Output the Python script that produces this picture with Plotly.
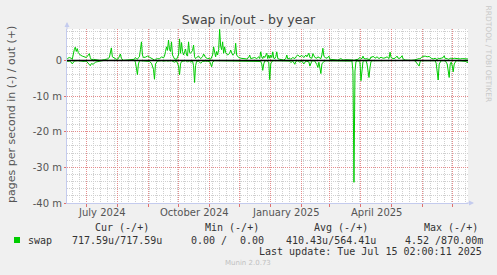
import pandas as pd
import plotly.graph_objects as go

# ---------------- data (values in milli pages/s) ----------------
start_date = "2024-06-12"
day_offset = [
    0, 2, 4, 5, 7, 8, 9, 10, 11, 13,
    15, 17, 19, 21, 22, 23, 24, 26, 28, 30,
    33, 37, 40, 42, 43, 44, 45, 47, 49, 51,
    53, 54, 56, 67, 68, 69, 70, 71, 72, 73,
    74, 75, 76, 78, 80, 82, 84, 86, 87, 88,
    90, 92, 94, 96, 97, 98, 99, 100, 101, 102,
    103, 104, 105, 107, 109, 111, 112, 113, 114, 115,
    116, 118, 119, 120, 121, 122, 123, 125, 126, 127,
    128, 129, 131, 133, 135, 136, 138, 140, 142, 143,
    144, 145, 146, 147, 148, 149, 150, 151, 152, 153,
    154, 155, 156, 157, 158, 160, 162, 163, 165, 167,
    168, 169, 171, 173, 175, 177, 179, 181, 182, 183,
    185, 187, 189, 191, 192, 193, 194, 195, 196, 197,
    199, 200, 201, 202, 203, 204, 205, 206, 207, 208,
    209, 210, 212, 214, 216, 218, 219, 220, 222, 223,
    225, 227, 228, 230, 232, 234, 236, 238, 239, 241,
    242, 244, 245, 247, 249, 250, 251, 253, 254, 255,
    256, 258, 260, 261, 262, 264, 267, 270, 273, 275,
    278, 281, 283, 284, 285, 286, 287, 288, 290, 292,
    293, 294, 295, 296, 298, 299, 300, 301, 302, 303,
    304, 305, 307, 309, 311, 313, 315, 317, 319, 321,
    322, 323, 325, 327, 329, 330, 332, 334, 335, 337,
    340, 343, 346, 348, 349, 351, 352, 353, 355, 357,
    359, 361, 363, 365, 367, 368, 369, 370, 371, 373,
    375, 376, 377, 379, 380, 381, 382, 383, 384, 385,
    386, 388, 390, 392, 394, 396, 398, 399, 400,
]
swap_out = [
    0.5, 0.8, 0.6, 0.3, 3.0, 3.7, 2.5, 3.3, 2.2, 1.5,
    1.2, 1.0, 0.8, 1.5, 1.9, 0.8, 0.2, 0.3, 0.2, 0.1,
    0.0, 0.2, 0.4, 0.8, 2.0, 3.5, 1.0, 0.6, 0.3, 0.5,
    1.8, 0.6, 0.0, 0.3, 0.8, 0.5, 0.3, 0.8, 1.0, 3.0,
    5.2, 1.5, 0.8, 0.9, 1.2, 0.9, 0.5, 0.2, 0.1, 0.3,
    0.5, 0.4, 1.0, 0.7, 1.2, 2.5, 3.8, 2.8, 5.7, 3.0,
    2.5, 5.2, 1.5, 0.4, 0.3, 1.5, 6.0, 2.0, 5.0, 2.5,
    1.5, 3.2, 1.5, 1.2, 5.2, 2.2, 2.0, 2.8, 4.3, 1.0,
    0.5, 0.8, 1.2, 0.5, 1.0, 1.8, 0.8, 0.5, 0.6, 0.3,
    0.8, 1.5, 3.8, 2.0, 1.0, 2.5, 1.5, 3.0, 8.7, 4.0,
    3.0, 5.2, 2.0, 3.8, 2.2, 1.5, 2.0, 2.9, 1.5, 2.0,
    4.8, 1.5, 0.8, 0.6, 0.5, 0.6, 0.4, 0.8, 1.5, 0.5,
    0.6, 0.8, 0.5, 1.0, 0.5, 2.4, 1.0, 0.5, 1.2, 0.8,
    2.0, 0.5, 1.5, 0.6, 1.5, 0.8, 2.4, 0.6, 0.5, 1.0,
    2.4, 0.5, 0.3, 0.1, 0.1, 0.5, 1.5, 0.4, 0.6, 0.3,
    0.8, 0.5, 1.0, 1.5, 1.0, 1.4, 0.8, 1.5, 1.0, 2.0,
    0.8, 0.6, 1.9, 0.8, 0.6, 1.0, 0.8, 0.5, 1.5, 3.4,
    1.2, 0.6, 0.8, 1.2, 0.3, 0.2, 0.1, 0.1, 0.5, 0.1,
    0.2, 0.2, 0.3, 0.1, 0.1, 0.0, 0.0, 0.2, 0.3, 0.8,
    0.5, 0.5, 1.2, 0.5, 0.4, 0.5, 0.3, 0.4, 0.3, 1.0,
    0.8, 1.2, 0.6, 1.0, 0.5, 0.9, 0.6, 0.7, 1.0, 0.5,
    2.3, 0.8, 0.5, 0.6, 1.2, 0.6, 0.6, 1.3, 0.4, 0.1,
    0.0, 0.0, 0.1, 0.3, 0.2, 0.5, 0.4, 0.8, 1.1, 1.2,
    1.0, 1.1, 0.6, 0.4, 0.6, 0.5, 0.2, 0.6, 0.5, 0.6,
    0.8, 1.3, 0.5, 0.5, 0.3, 0.4, 0.6, 0.5, 0.4, 0.5,
    0.6, 0.5, 0.6, 0.4, 0.5, 0.4, 0.3, 0.4, 0.5,
]
swap_in = [
    0.3, 0.2, 0.5, 1.0, 0.2, 0.1, 0.1, 0.1, 0.1, 0.2,
    0.2, 0.3, 0.2, 0.8, 1.2, 1.5, 0.9, 1.1, 0.5, 0.3,
    0.2, 0.0, 0.0, 0.1, 0.1, 0.0, 0.1, 0.1, 0.1, 0.0,
    0.0, 0.1, 0.0, 0.0, 0.5, 2.0, 4.0, 1.0, 0.2, 0.1,
    0.1, 0.1, 0.2, 0.1, 0.1, 0.3, 0.8, 2.5, 5.3, 1.0,
    0.2, 0.1, 0.1, 0.2, 0.1, 0.1, 0.1, 0.2, 0.1, 0.1,
    0.1, 0.1, 0.3, 0.5, 0.2, 1.5, 4.1, 1.0, 0.3, 0.2,
    0.1, 0.1, 0.2, 0.5, 0.2, 0.1, 0.5, 0.2, 1.5, 6.2,
    1.5, 0.3, 0.2, 0.8, 0.3, 0.2, 0.2, 0.3, 0.3, 1.0,
    1.8, 0.5, 0.2, 0.1, 0.1, 0.1, 0.1, 0.1, 0.1, 0.1,
    0.1, 0.1, 0.1, 0.1, 0.1, 0.1, 0.1, 0.2, 0.1, 0.1,
    0.1, 0.1, 0.1, 0.1, 0.1, 0.1, 0.1, 0.1, 0.1, 0.1,
    0.1, 0.1, 0.1, 0.1, 0.2, 0.3, 1.0, 2.8, 1.0, 0.2,
    0.1, 0.2, 0.5, 5.4, 1.0, 0.3, 0.1, 0.1, 0.1, 0.1,
    0.1, 0.1, 0.0, 0.0, 0.0, 0.1, 0.1, 0.1, 0.2, 0.6,
    0.2, 1.1, 0.3, 0.1, 0.5, 0.2, 1.0, 0.2, 0.3, 0.4,
    1.6, 0.2, 0.1, 0.2, 1.2, 2.0, 0.5, 3.7, 1.0, 0.5,
    0.3, 0.1, 0.1, 0.1, 0.1, 0.0, 0.0, 0.0, 0.0, 0.0,
    0.0, 0.0, 0.0, 0.2, 3.0, 34.2, 3.0, 0.3, 0.1, 0.5,
    5.7, 2.0, 0.3, 0.1, 0.1, 1.0, 3.0, 4.8, 2.0, 0.3,
    0.1, 0.1, 0.1, 0.1, 0.1, 0.1, 0.1, 0.1, 0.1, 0.1,
    0.1, 0.1, 0.1, 0.1, 0.1, 0.1, 0.1, 0.1, 0.1, 0.0,
    0.0, 0.0, 0.0, 0.5, 1.0, 1.6, 0.3, 0.1, 0.1, 0.1,
    0.1, 0.1, 0.1, 0.1, 0.1, 0.8, 2.5, 5.5, 1.0, 0.1,
    0.1, 0.1, 0.1, 1.0, 2.5, 4.8, 1.0, 0.5, 1.5, 3.2,
    1.0, 0.1, 0.1, 0.1, 0.1, 0.1, 0.3, 0.7, 0.2,
]

x_range = ["2024-06-11 18:00", "2025-07-16 18:00"]
y_range = [-40, 8.8]
y_tickvals = [-40, -30, -20, -10, 0]
y_ticktext = ["-40 m", "-30 m", "-20 m", "-10 m", "0"]
x_label_dates = ["2024-07-16 12:00", "2024-10-16 12:00", "2025-01-16 12:00", "2025-04-16 00:00"]
x_label_text = ["July 2024", "October 2024", "January 2025", "April 2025"]

legend_headers = ["Cur (-/+)", "Min (-/+)", "Avg (-/+)", "Max (-/+)"]
series_name = "swap"
cur_text = "717.59u/717.59u"
min_text_a = "0.00 /"
min_text_b = "0.00"
avg_text = "410.43u/564.41u"
max_text = "4.52 /870.00m"
last_update = "Last update: Tue Jul 15 02:00:11 2025"

# ---------------- figure ----------------
W, H = 497, 275
ML, MR, MT, MB = 67, 29, 29, 72
PW, PH = W - ML - MR, H - MT - MB

def px(x):
    return (x - ML) / PW

def py(y):
    return (H - MB - y) / PH

dates = pd.Timestamp(start_date) + pd.to_timedelta(day_offset, unit="D")
GREEN = "#00CC00"

fig = go.Figure()
fig.add_trace(go.Scatter(x=dates, y=swap_out, mode="lines",
                         line=dict(color=GREEN, width=1), hoverinfo="skip"))
fig.add_trace(go.Scatter(x=dates, y=[-v for v in swap_in], mode="lines",
                         line=dict(color=GREEN, width=1), hoverinfo="skip"))
fig.add_hline(y=0, line=dict(color="black", width=1.5))

AXIS_BLUE = "#c4cbee"
RED_GRID = "#e58c8c"
GRAY_GRID = "#cfcfcf"
DOT = "1px,1px"
MONO = "DejaVu Sans Mono"
SANS = "DejaVu Sans"

fig.update_layout(
    width=W, height=H,
    margin=dict(l=ML, r=MR, t=MT, b=MB),
    paper_bgcolor="#F0F0F0", plot_bgcolor="white",
    showlegend=False,
    title=dict(text="Swap in/out - by year", x=0.5, xanchor="center",
               y=1 - 19.5 / H, yanchor="middle", yref="container",
               font=dict(family=SANS, size=12.5, color="#444")),
    xaxis=dict(type="date", range=x_range, dtick="M1", tick0="2024-07-01",
               showgrid=True, gridcolor=RED_GRID, griddash=DOT, gridwidth=1,
               showticklabels=False, ticks="outside", ticklen=3, tickcolor="#e07070",
               showline=True, linecolor=AXIS_BLUE, linewidth=1, zeroline=False,
               minor=dict(dtick=7 * 86400000, tick0="2024-07-01", showgrid=True,
                          gridcolor=GRAY_GRID, griddash=DOT, ticks="")),
    yaxis=dict(range=y_range, tickvals=y_tickvals, ticktext=y_ticktext,
               showgrid=True, gridcolor=RED_GRID, griddash=DOT, gridwidth=1,
               ticks="outside", ticklen=2, tickcolor="#e07070",
               tickfont=dict(family=SANS, size=10, color="#555"),
               showline=True, linecolor=AXIS_BLUE, linewidth=1, zeroline=False,
               minor=dict(dtick=2, tick0=0, showgrid=True,
                          gridcolor=GRAY_GRID, griddash=DOT, ticks="")),
)

ann = []
# x labels
for d, t in zip(x_label_dates, x_label_text):
    ann.append(dict(x=d, xref="x", y=py(212.5), yref="paper", text=t, showarrow=False,
                    xanchor="center", yanchor="middle",
                    font=dict(family=SANS, size=10, color="#555")))
# y title
ann.append(dict(x=px(12), y=py(115), xref="paper", yref="paper", textangle=-90,
                text="pages per second in (-) / out (+)", showarrow=False,
                xanchor="center", yanchor="middle",
                font=dict(family=SANS, size=11, color="#555")))
# right credit
ann.append(dict(x=px(488), y=py(53.5), xref="paper", yref="paper", textangle=90,
                text="RRDTOOL / TOBI OETIKER", showarrow=False,
                xanchor="center", yanchor="middle",
                font=dict(family=SANS, size=7.5, color="#c8c8c8")))
# axis arrows
ann.append(dict(x=0, y=1, xref="paper", yref="paper", text="", showarrow=True,
                ax=0, ay=9, arrowhead=2, arrowsize=1, arrowwidth=1,
                arrowcolor=AXIS_BLUE, yshift=7))
ann.append(dict(x=1, y=0, xref="paper", yref="paper", text="", showarrow=True,
                ax=-9, ay=0, arrowhead=2, arrowsize=1, arrowwidth=1,
                arrowcolor=AXIS_BLUE, xshift=6))
# legend header
for xl, t in zip([94.3, 203.7, 313.3, 422.7], legend_headers):
    ann.append(dict(x=px(xl - 1), y=py(227.3), xref="paper", yref="paper", text=t,
                    showarrow=False, xanchor="left", yanchor="middle",
                    font=dict(family=MONO, size=10, color="#333")))
row_items = [(26.7, series_name), (71.3, cur_text), (190.3, min_text_a),
             (238.5, min_text_b), (285.0, avg_text), (404.3, max_text)]
for xl, t in row_items:
    ann.append(dict(x=px(xl - 1), y=py(240), xref="paper", yref="paper", text=t,
                    showarrow=False, xanchor="left", yanchor="middle",
                    font=dict(family=MONO, size=10, color="#333")))
ann.append(dict(x=px(483.5), y=py(251.7), xref="paper", yref="paper", text=last_update,
                showarrow=False, xanchor="right", yanchor="middle",
                font=dict(family=MONO, size=10, color="#333")))
ann.append(dict(x=px(248), y=py(263.3), xref="paper", yref="paper", text="Munin 2.0.73",
                showarrow=False, xanchor="center", yanchor="middle",
                font=dict(family=SANS, size=7, color="#c0c0c0")))
fig.update_layout(annotations=ann)

# legend colour swatch
fig.add_shape(type="rect", xref="paper", yref="paper",
              x0=px(14), x1=px(20), y0=py(243), y1=py(237),
              fillcolor=GREEN, line=dict(width=0))

fig.write_html("out.html")
